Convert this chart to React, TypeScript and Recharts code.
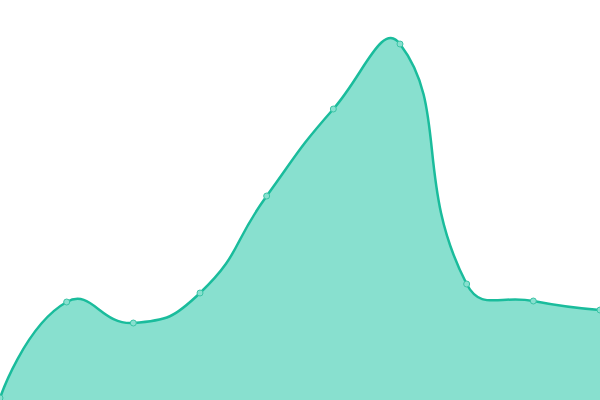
import React from "react";
import { AreaChart, Area, XAxis, YAxis } from "recharts";

const categories = ["A", "B", "C", "D", "E", "F", "G", "H", "I", "J"];
const values = [2, 98, 77, 107, 204, 291, 356, 116, 99, 90];

const data = categories.map((c, i) => ({ name: c, value: values[i] }));

const SMOOTH = 0.5;

// Custom d3-style curve factory (smooth bezier through points)
function smoothCurve(context: any) {
  let pts: number[][] = [];
  let line: number = NaN;
  return {
    areaStart() {
      line = 0;
    },
    areaEnd() {
      line = NaN;
    },
    lineStart() {
      pts = [];
    },
    lineEnd() {
      const n = pts.length;
      if (n) {
        if (line) context.lineTo(pts[0][0], pts[0][1]);
        else context.moveTo(pts[0][0], pts[0][1]);
        let cpx0 = pts[0][0];
        let cpy0 = pts[0][1];
        for (let i = 1; i < n; i++) {
          const [x, y] = pts[i];
          const [px, py] = pts[i - 1];
          let ncx = x;
          let ncy = y;
          let vx = 0;
          let vy = 0;
          let ratio = 0.5;
          if (i < n - 1) {
            const [nx, ny] = pts[i + 1];
            vx = nx - px;
            vy = ny - py;
            const l0 = Math.hypot(x - px, y - py);
            const l1 = Math.hypot(nx - x, ny - y);
            ratio = l0 + l1 > 0 ? l1 / (l0 + l1) : 0.5;
            ncx = x - vx * SMOOTH * (1 - ratio);
            ncy = y - vy * SMOOTH * (1 - ratio);
          }
          context.bezierCurveTo(cpx0, cpy0, ncx, ncy, x, y);
          cpx0 = x + vx * SMOOTH * ratio;
          cpy0 = y + vy * SMOOTH * ratio;
        }
      }
      if (line || (line !== 0 && n === 1)) context.closePath();
      line = 1 - line;
    },
    point(x: number, y: number) {
      pts.push([+x, +y]);
    },
  };
}

export default function App() {
  return (
    <div style={{ position: "absolute", left: 0, top: 0, width: 600, height: 400, background: "#fff" }}>
      <AreaChart width={600} height={400} data={data} margin={{ top: 0, right: 0, bottom: 0, left: 0 }}>
        <XAxis dataKey="name" hide />
        <YAxis hide domain={[0, 400]} />
        <Area
          type={smoothCurve as any}
          dataKey="value"
          stroke="#1abc9c"
          strokeWidth={2.5}
          fill="#88e0cf"
          fillOpacity={1}
          dot={{ r: 3, fill: "#88e0cf", stroke: "#3cc4a6", strokeWidth: 1 }}
          activeDot={false}
          isAnimationActive={false}
        />
      </AreaChart>
    </div>
  );
}
